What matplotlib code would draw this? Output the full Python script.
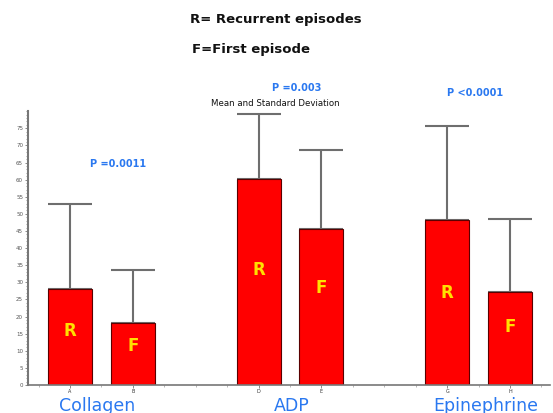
import matplotlib
matplotlib.use("Agg")
import matplotlib.pyplot as plt
from matplotlib.ticker import MultipleLocator, FixedLocator

plt.rcParams['font.family'] = ['DejaVu Sans']

# Platelet aggregation by agonist: recurrent (R) vs first (F) episode
agonists = ["Collagen", "ADP", "Epinephrine"]
tick_letters = ["A", "B", "D", "E", "G", "H"]
recurrent_mean = [28.0, 60.1, 48.1]
recurrent_sd = [24.8, 19.2, 27.7]
first_mean = [18.2, 45.7, 27.1]
first_sd = [15.3, 23.1, 21.3]
p_values = ["P =0.0011", "P =0.003", "P <0.0001"]

fig = plt.figure(figsize=(5.53, 4.13), dpi=100)
ax = fig.add_axes([0.0506, 0.0678, 0.944, 0.663])

x_r = [1, 4, 7]
x_f = [2, 5, 8]
width = 0.70
red = "#ff0000"
err_col = "#6e6e6e"

ax.bar(x_r, recurrent_mean, width=width, color=red, edgecolor="#5a0000", linewidth=0.8, zorder=2)
ax.bar(x_f, first_mean, width=width, color=red, edgecolor="#5a0000", linewidth=0.8, zorder=2)

zeros = [0, 0, 0]
ax.errorbar(x_r, recurrent_mean, yerr=[zeros, recurrent_sd], fmt="none",
            ecolor=err_col, elinewidth=1.5, capsize=15.8, capthick=1.5, zorder=1)
ax.errorbar(x_f, first_mean, yerr=[zeros, first_sd], fmt="none",
            ecolor=err_col, elinewidth=1.5, capsize=15.8, capthick=1.5, zorder=1)

# bar letters
for xs, ms, letter, frac in [(x_r, recurrent_mean, "R", 0.56), (x_f, first_mean, "F", 0.62)]:
    for xv, m in zip(xs, ms):
        ax.text(xv, m * frac, letter, ha="center", va="center", color="#ffe000",
                fontsize=12, fontweight="bold", zorder=3)

ax.set_xlim(0.332, 8.636)
ax.set_ylim(0, 80)

ax.spines["top"].set_visible(False)
ax.spines["right"].set_visible(False)
ax.spines["left"].set_color("#777777")
ax.spines["bottom"].set_color("#777777")
ax.spines["left"].set_linewidth(1.5)
ax.spines["bottom"].set_linewidth(1.2)

ax.yaxis.set_major_locator(FixedLocator(list(range(0, 80, 5))))
ax.yaxis.set_minor_locator(MultipleLocator(1))
ax.tick_params(axis="y", which="major", labelsize=4, length=2.5, width=0.6,
               colors="#777777", labelcolor="#555555", pad=1)
ax.tick_params(axis="y", which="minor", length=1.5, width=0.5, colors="#777777")

ax.set_xticks([x_r[0], x_f[0], x_r[1], x_f[1], x_r[2], x_f[2]])
ax.set_xticklabels(tick_letters)
ax.xaxis.set_minor_locator(MultipleLocator(0.5))
ax.tick_params(axis="x", which="major", labelsize=3.5, length=2.5, width=0.6,
               colors="#777777", labelcolor="#333333", pad=0.5)
ax.tick_params(axis="x", which="minor", length=1.5, width=0.5, colors="#999999")

# agonist names under each pair
blue = "#2a78f0"
name_x = [1.43, 4.53, 7.61]
for nx, name in zip(name_x, agonists):
    ax.text(nx, -6.0, name, ha="center", va="center", color=blue, fontsize=12.5,
            clip_on=False)

# p-values
p_pos = [(1.77, 64.5), (4.61, 86.8), (7.44, 85.3)]
for (px, py), txt in zip(p_pos, p_values):
    ax.text(px, py, txt, ha="center", va="center", color=blue, fontsize=7,
            fontweight="bold", clip_on=False)

ax.text(4.27, 82.2, "Mean and Standard Deviation", ha="center", va="center",
        fontsize=6.2, color="#111111", clip_on=False)

fig.text(0.343, 0.952, "R= Recurrent episodes", ha="left", va="center",
         fontsize=9.5, fontweight="bold", color="#111111")
fig.text(0.347, 0.879, "F=First episode", ha="left", va="center",
         fontsize=9.5, fontweight="bold", color="#111111")

fig.savefig("out.png", dpi=100)
